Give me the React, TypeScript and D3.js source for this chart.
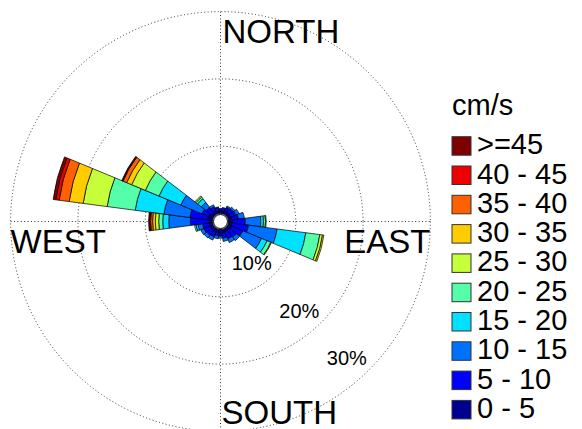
import React from "react";
import * as d3 from "d3";

// ---- data ----
const directions = d3.range(0, 360, 15); // compass degrees, 24 sectors
const speedLabels = ["0 - 5", "5 - 10", "10 - 15", "15 - 20", "20 - 25", "25 - 30", "30 - 35", "35 - 40", "40 - 45", ">=45"];
const speedColors = ["#000090", "#0000ff", "#0070ff", "#00e0ff", "#55ffaa", "#c6ff3a", "#ffcc00", "#ff6000", "#ee0000", "#7f0000"];
// frequency (%) per speed bin, per direction (0,15,...,345)
const bin0_5 = [0.45, 0.45, 0.5, 0.5, 0.5, 0.5, 0.6, 0.6, 0.6, 0.5, 0.5, 0.5, 0.5, 0.5, 0.5, 0.5, 0.5, 0.5, 0.45, 0.8, 0.75, 0.45, 0.5, 0.45];
const bin5_10 = [0.3, 0.45, 0.6, 0.7, 0.8, 1.0, 1.9, 2.4, 1.8, 1.3, 1.1, 0.8, 0.5, 0.5, 0.8, 0.9, 1.0, 1.0, 2.85, 2.6, 1.05, 1.05, 0.7, 0.45];
const bin10_15 = [0, 0, 0.2, 0.3, 0.5, 0.9, 2.3, 4.3, 3.0, 0.6, 0.6, 0.5, 0.3, 0.4, 0.5, 0.5, 0.5, 0.7, 3.2, 3.9, 3.4, 0.9, 0.3, 0.1];
const bin15_20 = [0, 0, 0, 0, 0, 0, 0.4, 4.3, 0.9, 0, 0, 0, 0, 0, 0, 0, 0, 0.3, 0.9, 4.3, 3.5, 0.7, 0, 0];
const bin20_25 = [0, 0, 0, 0, 0, 0, 0.3, 2.1, 0.6, 0, 0, 0, 0, 0, 0, 0, 0, 0.2, 0.6, 4.2, 2.2, 0.3, 0, 0];
const bin25_30 = [0, 0, 0, 0, 0, 0, 0.1, 0.4, 0.1, 0, 0, 0, 0, 0, 0, 0, 0, 0, 0.5, 3.6, 2.2, 0.2, 0, 0];
const bin30_35 = [0, 0, 0, 0, 0, 0, 0, 0.2, 0, 0, 0, 0, 0, 0, 0, 0, 0, 0, 0.4, 2.1, 0.8, 0, 0, 0];
const bin35_40 = [0, 0, 0, 0, 0, 0, 0, 0, 0, 0, 0, 0, 0, 0, 0, 0, 0, 0, 0.3, 1.5, 0.6, 0, 0, 0];
const bin40_45 = [0, 0, 0, 0, 0, 0, 0, 0, 0, 0, 0, 0, 0, 0, 0, 0, 0, 0, 0.15, 0.5, 0.1, 0, 0, 0];
const bin45up = [0, 0, 0, 0, 0, 0, 0, 0, 0, 0, 0, 0, 0, 0, 0, 0, 0, 0, 0.15, 0.4, 0.1, 0, 0, 0];
const bins = [bin0_5, bin5_10, bin10_15, bin15_20, bin20_25, bin25_30, bin30_35, bin35_40, bin40_45, bin45up];
const ringTicks = [10, 20, 30];
const compassLabels = ["NORTH", "EAST", "SOUTH", "WEST"];
const legendTitle = "cm/s";

const W = 582;
const H = 429;
const cx = 220.5;
const cy = 221.5;
const FONT = "'Liberation Sans', Arial, Helvetica, sans-serif";

export default function App() {
  const r = d3.scaleLinear().domain([0, 30]).range([8, 209.9]);
  const R = r(30);
  const half = (Math.PI / 180) * 7.5;
  const arc = d3.arc<any>();

  const wedges: any[] = [];
  directions.forEach((dir, di) => {
    let cum = 0;
    bins.forEach((bin, bi) => {
      const v = bin[di];
      if (v <= 0) return;
      const a = (dir * Math.PI) / 180;
      wedges.push({
        key: `${di}-${bi}`,
        d: arc({ innerRadius: r(cum), outerRadius: r(cum + v), startAngle: a - half, endAngle: a + half }),
        fill: speedColors[bi],
      });
      cum += v;
    });
  });

  const dot = { stroke: "#333", strokeWidth: 1, strokeDasharray: "1 2.4", fill: "none" };
  const legendTop = 136.7;
  const legendStep = 29.3;

  return (
    <svg width={W} height={H} style={{ position: "absolute", left: 0, top: 0, background: "#fff" }} fontFamily={FONT}>
      {ringTicks.map((t) => (
        <circle key={t} cx={cx} cy={cy} r={r(t)} {...dot} />
      ))}
      <line x1={cx} x2={cx} y1={cy - R} y2={cy + R} {...dot} />
      <line x1={cx - R} x2={cx + R} y1={cy} y2={cy} {...dot} />

      <g transform={`translate(${cx},${cy})`}>
        {wedges.map((w) => (
          <path key={w.key} d={w.d} fill={w.fill} stroke="#000" strokeWidth={0.7} strokeLinejoin="round" />
        ))}
        <circle r={r(0) - 1} fill="#fff" stroke="#000" strokeWidth={1} />
      </g>

      {ringTicks.map((t) => (
        <text
          key={t}
          x={cx + r(t) * Math.SQRT1_2 - 2}
          y={cy + r(t) * Math.SQRT1_2 - 4.5}
          fontSize={20}
          textAnchor="end"
          fill="#000"
        >
          {t}%
        </text>
      ))}

      <text x={cx + 2} y={43} fontSize={33} fill="#000">{compassLabels[0]}</text>
      <text x={cx + R} y={253} fontSize={33} textAnchor="end" fill="#000">{compassLabels[1]}</text>
      <text x={cx + 1} y={424} fontSize={33} fill="#000">{compassLabels[2]}</text>
      <text x={cx - R} y={253} fontSize={33} fill="#000">{compassLabels[3]}</text>

      <text x={452} y={115} fontSize={29} fill="#000">{legendTitle}</text>
      {speedLabels
        .map((lab, i) => ({ lab, col: speedColors[i] }))
        .reverse()
        .map((it, i) => (
          <g key={it.lab}>
            <rect x={452} y={legendTop + i * legendStep} width={19} height={18.5} fill={it.col} stroke="#333" strokeWidth={1} />
            <text x={477} y={legendTop + i * legendStep + 17.5} fontSize={29} fill="#000">
              {it.lab}
            </text>
          </g>
        ))}
    </svg>
  );
}
